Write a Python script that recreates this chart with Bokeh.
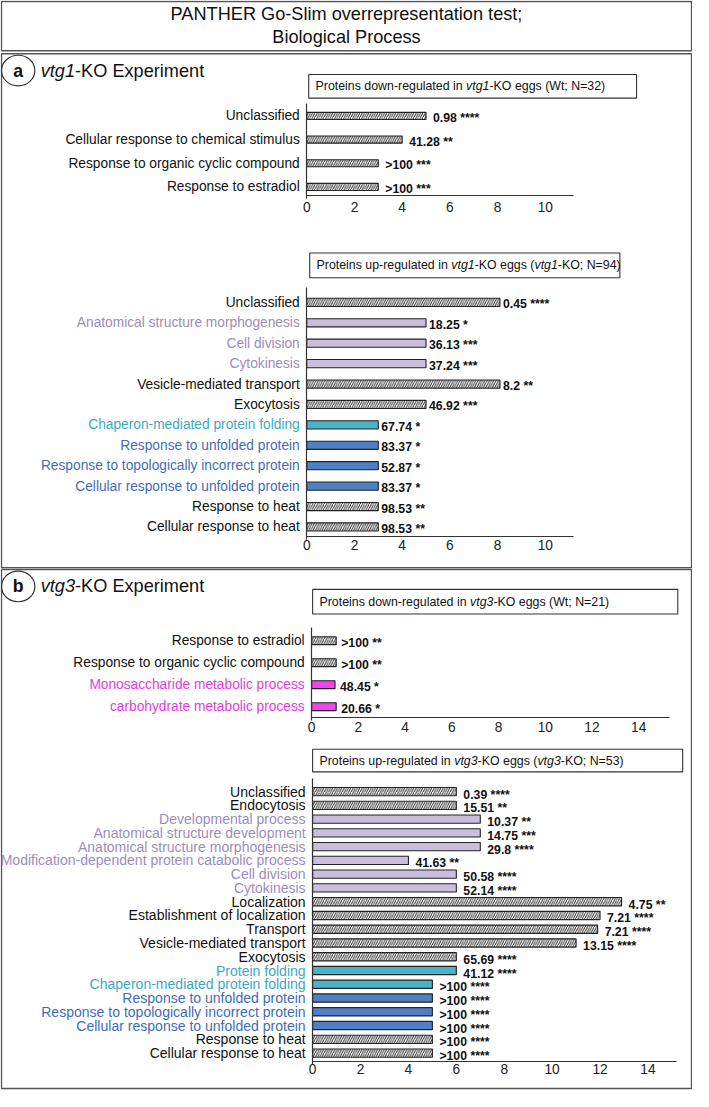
from bokeh.plotting import figure
from bokeh.models import Range1d, LinearAxis, FixedTicker, ColumnDataSource
from bokeh.core.properties import value
from bokeh.embed import file_html
from bokeh.resources import INLINE

# ---------------- data ----------------
title_lines = ["PANTHER Go-Slim overrepresentation test;", "Biological Process"]
panel_letters = ["a", "b"]
panel_headers = [[("vtg1", True), ("-KO Experiment", False)],
                 [("vtg3", True), ("-KO Experiment", False)]]

box_a1 = [("Proteins down-regulated in ", False), ("vtg1", True), ("-KO eggs (Wt; N=32)", False)]
box_a2 = [("Proteins up-regulated in ", False), ("vtg1", True), ("-KO eggs (", False),
          ("vtg1", True), ("-KO; N=94)", False)]
box_b1 = [("Proteins down-regulated in ", False), ("vtg3", True), ("-KO eggs (Wt; N=21)", False)]
box_b2 = [("Proteins up-regulated in ", False), ("vtg3", True), ("-KO eggs (", False),
          ("vtg3", True), ("-KO; N=53)", False)]

a1_terms = ["Unclassified", "Cellular response to chemical stimulus",
            "Response to organic cyclic compound", "Response to estradiol"]
a1_values = [5.0, 4.0, 3.0, 3.0]
a1_pvals = ["0.98", "41.28", ">100", ">100"]
a1_stars = ["****", "**", "***", "***"]
a1_groups = ["other", "other", "other", "other"]

a2_terms = ["Unclassified", "Anatomical structure morphogenesis", "Cell division", "Cytokinesis",
            "Vesicle-mediated transport", "Exocytosis", "Chaperon-mediated protein folding",
            "Response to unfolded protein", "Response to topologically incorrect protein",
            "Cellular response to unfolded protein", "Response to heat", "Cellular response to heat"]
a2_values = [8.1, 5.0, 5.0, 5.0, 8.1, 5.0, 3.0, 3.0, 3.0, 3.0, 3.0, 3.0]
a2_pvals = ["0.45", "18.25", "36.13", "37.24", "8.2", "46.92", "67.74", "83.37", "52.87",
            "83.37", "98.53", "98.53"]
a2_stars = ["****", "*", "***", "***", "**", "***", "*", "*", "*", "*", "**", "**"]
a2_groups = ["other", "dev", "dev", "dev", "other", "other", "fold", "unfold", "unfold",
             "unfold", "other", "other"]

b1_terms = ["Response to estradiol", "Response to organic cyclic compound",
            "Monosaccharide metabolic process", "carbohydrate metabolic process"]
b1_values = [1.05, 1.05, 1.0, 1.05]
b1_pvals = [">100", ">100", "48.45", "20.66"]
b1_stars = ["**", "**", "*", "*"]
b1_groups = ["other", "other", "carb", "carb"]

b2_terms = ["Unclassified", "Endocytosis", "Developmental process", "Anatomical structure development",
            "Anatomical structure morphogenesis", "Modification-dependent protein catabolic process",
            "Cell division", "Cytokinesis", "Localization", "Establishment of localization",
            "Transport", "Vesicle-mediated transport", "Exocytosis", "Protein folding",
            "Chaperon-mediated protein folding", "Response to unfolded protein",
            "Response to topologically incorrect protein", "Cellular response to unfolded protein",
            "Response to heat", "Cellular response to heat"]
b2_values = [6.0, 6.0, 7.0, 7.0, 7.0, 4.0, 6.0, 6.0, 12.9, 12.0, 11.9, 11.0, 6.0, 6.0,
             5.0, 5.0, 5.0, 5.0, 5.0, 5.0]
b2_pvals = ["0.39", "15.51", "10.37", "14.75", "29.8", "41.63", "50.58", "52.14", "4.75", "7.21",
            "7.21", "13.15", "65.69", "41.12", ">100", ">100", ">100", ">100", ">100", ">100"]
b2_stars = ["****", "**", "**", "***", "****", "**", "****", "****", "**", "****", "****", "****",
            "****", "****", "****", "****", "****", "****", "****", "****"]
b2_groups = ["other", "other", "dev", "dev", "dev", "dev", "dev", "dev", "other", "other", "other",
             "other", "other", "fold", "fold", "unfold", "unfold", "unfold", "other", "other"]

ticks_a = [0, 2, 4, 6, 8, 10]
ticks_b = [0, 2, 4, 6, 8, 10, 12, 14]

# ---------------- styles ----------------
STYLE = {
    "other": dict(label="#111111", fill="#ffffff", hatch="/"),
    "dev": dict(label="#9b8dbb", fill="#c9bfdd", hatch=None),
    "fold": dict(label="#3fa8bf", fill="#4ab3c9", hatch=None),
    "unfold": dict(label="#3f6db5", fill="#4f7fc4", hatch=None),
    "carb": dict(label="#e23de0", fill="#ee45ee", hatch=None),
}
FONT = value("Liberation Sans")

AW = {' ': 278, '(': 333, ')': 333, '-': 333, ';': 278, '=': 584, '.': 278, ',': 278,
      'A': 667, 'B': 667, 'C': 722, 'D': 722, 'E': 667, 'F': 611, 'G': 778, 'H': 722, 'I': 278,
      'J': 500, 'K': 667, 'L': 556, 'M': 833, 'N': 722, 'O': 778, 'P': 667, 'Q': 778, 'R': 722,
      'S': 667, 'T': 611, 'U': 722, 'V': 667, 'W': 944, 'X': 667, 'Y': 667, 'Z': 611,
      'a': 556, 'b': 556, 'c': 500, 'd': 556, 'e': 556, 'f': 278, 'g': 556, 'h': 556, 'i': 222,
      'j': 222, 'k': 500, 'l': 222, 'm': 833, 'n': 556, 'o': 556, 'p': 556, 'q': 556, 'r': 333,
      's': 500, 't': 278, 'u': 556, 'v': 500, 'w': 722, 'x': 500, 'y': 500, 'z': 500}


def tw(s, size):
    return sum(AW.get(c, 556) for c in s) / 1000.0 * size


W, H = 692, 1090
XL, XR = 2, 707
YT, YB = 1, 1106
S = W / (XR - XL)


def fs(ref):
    return "%.2fpx" % (ref * S)


p = figure(width=W, height=H, x_range=Range1d(XL, XR), y_range=Range1d(YB, YT),
           output_backend="svg", toolbar_location=None, min_border=0,
           x_axis_type=None, y_axis_type=None)
p.outline_line_color = None
p.background_fill_color = "white"
p.border_fill_color = "white"

# frames
p.quad(left=[3, 3, 3], right=[706, 706, 706], top=[2, 55, 578], bottom=[52, 576, 1104],
       fill_color=None, line_color="#555555", line_width=1.4)
p.text(x=[354.5, 354.5], y=[15, 38], text=title_lines, text_align="center",
       text_baseline="middle", text_font=FONT, text_font_size=fs(18.5), text_color="#111111")

# panel headers
p.ellipse(x=[20, 20], y=[72, 595], width=34, height=31, fill_color=None,
          line_color="#333333", line_width=1.2)
p.text(x=[20, 20], y=[72, 595], text=panel_letters, text_align="center", text_baseline="middle",
       text_font=FONT, text_font_size=fs(18), text_font_style="bold", text_color="#111111")


def rich_text(x0, y, pieces, size):
    x = x0
    for s, it in pieces:
        p.text(x=[x], y=[y], text=[s], text_align="left", text_baseline="middle",
               text_font=FONT, text_font_size=fs(size),
               text_font_style="italic" if it else "normal", text_color="#111111")
        x += tw(s, size)


rich_text(43, 72, panel_headers[0], 18.5)
rich_text(43, 595, panel_headers[1], 18.5)

# sub-title boxes
for (l, r, t, b), pieces in [((316, 650, 76, 100), box_a1), ((317, 633, 257, 282), box_a2),
                             ((320, 692, 598, 623), box_b1), ((320, 697, 760, 783), box_b2)]:
    p.quad(left=[l], right=[r], top=[t], bottom=[b], fill_color="white",
           line_color="#333333", line_width=1.1)
    rich_text(l + 7, (t + b) / 2.0, pieces, 12.6)


def subchart(name, terms, values, pvals, stars, groups, X0, u, y0, step, axis_y, vtop,
             bar_h, xend, ticks, val_gap, val_dy, standoff, lab_size):
    n = len(terms)
    idx = list(range(n))
    p.extra_x_ranges[name] = Range1d((XL - X0) / u, (XR - X0) / u)
    p.extra_y_ranges[name] = Range1d((YB - y0) / step, (YT - y0) / step)
    kw = dict(x_range_name=name, y_range_name=name)

    for g in STYLE:
        sel = [i for i in idx if groups[i] == g]
        if not sel:
            continue
        st = STYLE[g]
        src = ColumnDataSource(dict(y=sel, right=[values[i] for i in sel]))
        extra = {}
        if st["hatch"]:
            extra = dict(hatch_pattern=st["hatch"], hatch_color="#3a3a3a", hatch_scale=4.5,
                         hatch_weight=1.0)
        p.hbar(y="y", left=0, right="right", height=bar_h, source=src,
               fill_color=st["fill"], line_color="#222222", line_width=1.1, **extra, **kw)

    lab = ColumnDataSource(dict(x=[0] * n, y=idx, text=terms,
                                color=[STYLE[g]["label"] for g in groups]))
    p.text(x="x", y="y", text="text", text_color="color", source=lab, x_offset=-7,
           text_align="right", text_baseline="middle", text_font=FONT,
           text_font_size=fs(lab_size), **kw)

    vsrc = ColumnDataSource(dict(x=values, y=idx,
                                 text=["%s %s" % (a, b) for a, b in zip(pvals, stars)]))
    p.text(x="x", y="y", text="text", source=vsrc, x_offset=val_gap, y_offset=val_dy,
           text_align="left", text_baseline="middle", text_font=FONT,
           text_font_size=fs(12.5), text_font_style="bold", text_color="#111111", **kw)

    ax = LinearAxis(fixed_location=(axis_y - y0) / step, bounds=(0, xend),
                    ticker=FixedTicker(ticks=ticks), major_tick_out=0, major_tick_in=0,
                    minor_tick_out=0, minor_tick_in=0, axis_line_color="#333333",
                    axis_line_width=1.2, major_label_text_font="Liberation Sans",
                    major_label_text_font_size=fs(14), major_label_standoff=standoff,
                    major_label_text_color="#222222", **kw)
    p.add_layout(ax, "below")

    yax = LinearAxis(fixed_location=0, bounds=((vtop - y0) / step, (axis_y + 3 - y0) / step),
                     ticker=FixedTicker(ticks=[]), major_label_text_font_size="0px",
                     major_tick_line_color=None, minor_tick_line_color=None,
                     axis_line_color="#333333", axis_line_width=1.2, **kw)
    p.add_layout(yax, "left")


subchart("a1", a1_terms, a1_values, a1_pvals, a1_stars, a1_groups,
         X0=314, u=24.3, y0=118, step=24, axis_y=199, vtop=105, bar_h=0.3, xend=11.2,
         ticks=ticks_a, val_gap=7, val_dy=2, standoff=6, lab_size=14)
subchart("a2", a2_terms, a2_values, a2_pvals, a2_stars, a2_groups,
         X0=314, u=24.3, y0=307, step=20.7, axis_y=544, vtop=292, bar_h=0.4, xend=11.2,
         ticks=ticks_a, val_gap=3, val_dy=2, standoff=4, lab_size=14)
subchart("b1", b1_terms, b1_values, b1_pvals, b1_stars, b1_groups,
         X0=319, u=23.8, y0=650, step=22.3, axis_y=728, vtop=637, bar_h=0.36, xend=15.3,
         ticks=ticks_b, val_gap=5, val_dy=2, standoff=4, lab_size=14)
subchart("b2", b2_terms, b2_values, b2_pvals, b2_stars, b2_groups,
         X0=320, u=24.4, y0=803, step=13.95, axis_y=1077, vtop=790, bar_h=0.6, xend=15.2,
         ticks=ticks_b, val_gap=7, val_dy=3, standoff=2, lab_size=14.3)

open("out.html", "w").write(file_html(p, INLINE))
